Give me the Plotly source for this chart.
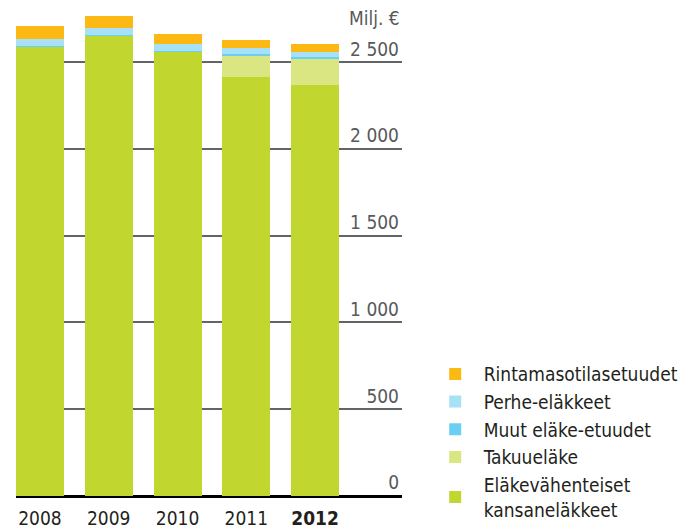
import plotly.graph_objects as go

years = ["2008", "2009", "2010", "2011", "2012"]
year_labels = ["2008", "2009", "2010", "2011", "<b>2012</b>"]

elakevahenteiset = [2588, 2655, 2560, 2415, 2369]
takuuelake = [0, 0, 0, 122, 150]
muut = [5, 3, 5, 11, 12]
perhe = [41, 40, 41, 35, 29]
rintama = [75, 69, 57, 46, 46]

tick_vals = [0, 500, 1000, 1500, 2000, 2500]
tick_text = ["0", "500", "1 000", "1 500", "2 000", "2 500"]

FONT = "DejaVu Sans Condensed"

series = [
    ("Eläkevähenteiset<br>kansaneläkkeet", elakevahenteiset, "#C1D72F"),
    ("Takuueläke", takuuelake, "#D9E682"),
    ("Muut eläke-etuudet", muut, "#6ACFF3"),
    ("Perhe-eläkkeet", perhe, "#A6E1F8"),
    ("Rintamasotilasetuudet", rintama, "#FDB913"),
]

fig = go.Figure()
for name, vals, col in series:
    fig.add_trace(go.Bar(x=list(range(len(years))), y=vals, name=name,
                         marker=dict(color=col, line=dict(width=0))))

fig.update_layout(
    width=683, height=524,
    margin=dict(l=8, r=289, t=2, b=36, autoexpand=False),
    barmode="stack", bargap=0.302,
    paper_bgcolor="white", plot_bgcolor="white",
    font=dict(family=FONT, size=19, color="#231F20"),
    showlegend=True,
    legend=dict(x=1.064, y=0.29, xanchor="left", yanchor="top",
                traceorder="reversed", itemwidth=47,
                font=dict(family=FONT, size=19, color="#231F20"),
                bgcolor="rgba(0,0,0,0)"),
    xaxis=dict(range=[-0.349, 5.265], tickmode="array", automargin=False,
               tickvals=list(range(len(years))), ticktext=year_labels,
               ticklabelstandoff=9,
               showgrid=False, zeroline=False, showline=False, ticks="",
               tickfont=dict(family=FONT, size=19, color="#231F20")),
    yaxis=dict(range=[0, 2801], side="right", tickmode="array", automargin=False,
               tickvals=tick_vals, ticktext=tick_text,
               ticklabelposition="inside top",
               showgrid=True, gridcolor="#636466", gridwidth=1.6,
               zeroline=True, zerolinecolor="#000000", zerolinewidth=2.5,
               showline=False, ticks="",
               tickfont=dict(family=FONT, size=19, color="#58595B")),
    annotations=[dict(text="Milj. €", xref="paper", yref="paper",
                      x=1.0, y=0.983, xanchor="right", yanchor="middle",
                      showarrow=False,
                      font=dict(family=FONT, size=19, color="#58595B"))],
)

fig.write_html("out.html")
